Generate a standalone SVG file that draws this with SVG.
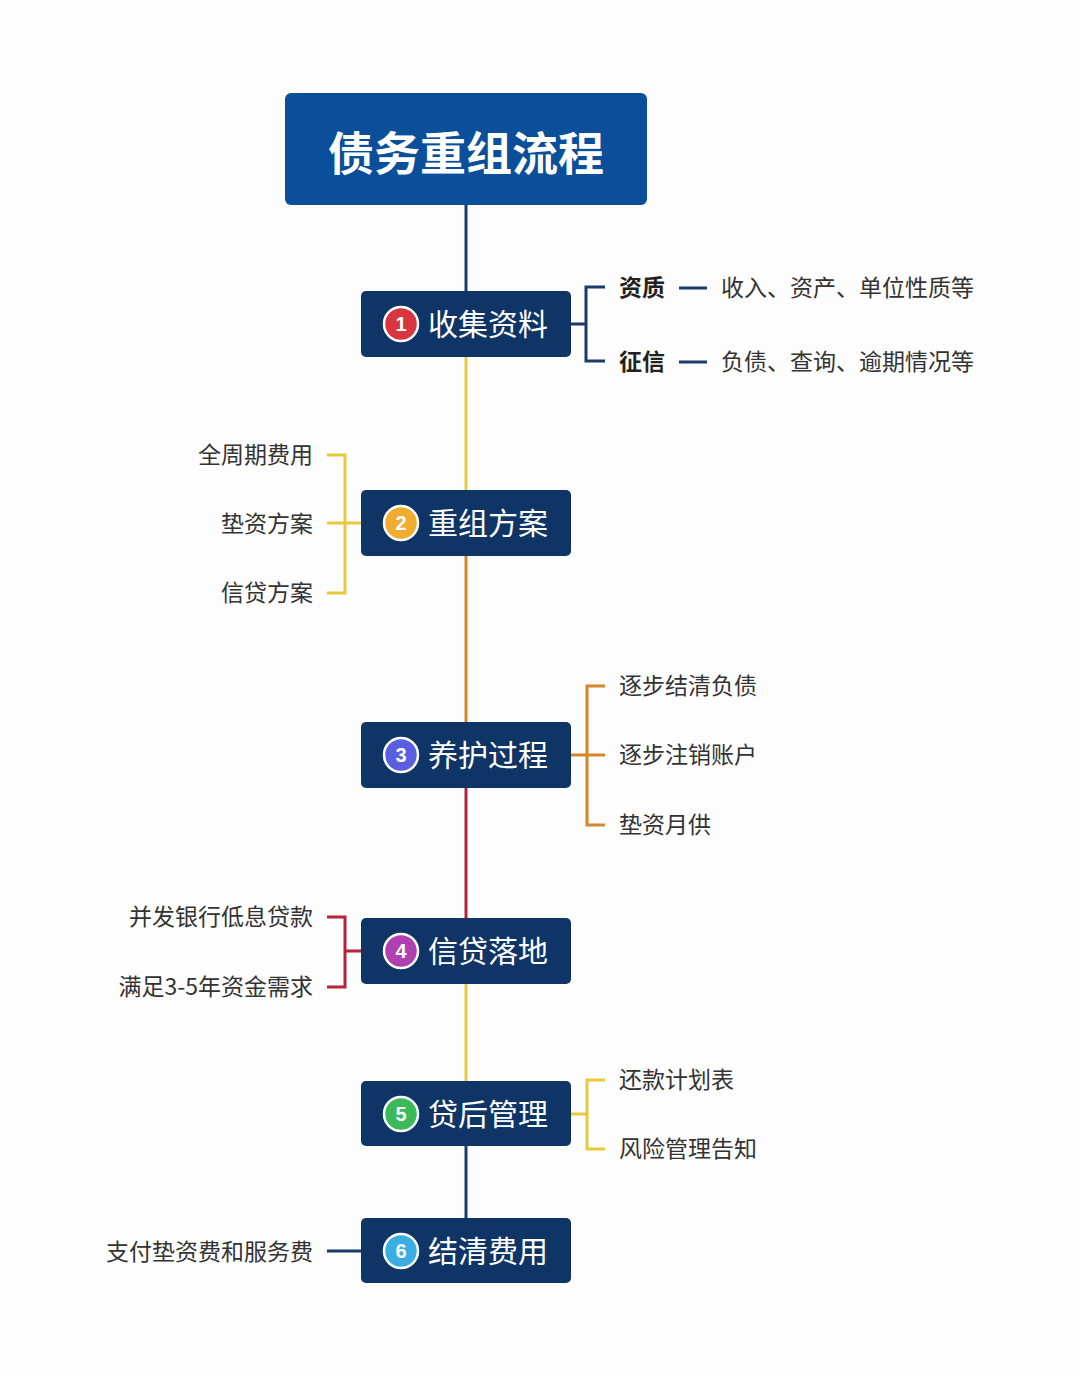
<svg xmlns="http://www.w3.org/2000/svg" width="1080" height="1376" viewBox="0 0 1080 1376">
<style>
.node{fill:#0e3566;}
.num{fill:#fff;font-family:"Liberation Sans",Arial,sans-serif;font-weight:bold;font-size:20px;text-anchor:middle;}
.ntxt{fill:#fff;font-family:"Noto Sans CJK SC","Noto Sans",sans-serif;font-size:30px;}
.leaf{fill:#333;font-family:"Noto Sans CJK SC","Noto Sans",sans-serif;font-size:23px;}
.leafb{fill:#222;font-family:"Noto Sans CJK SC","Noto Sans",sans-serif;font-size:23px;font-weight:bold;}
.r{text-anchor:end;}
.ln{fill:none;stroke-width:3;}
.navy{stroke:#1b3a6a;}
.yel{stroke:#e9c93c;}
.org{stroke:#d4862b;}
.red{stroke:#b4223c;}
</style>
<rect width="1080" height="1376" fill="#fdfdfd"/>
<g id="connectors">
<line class="ln navy" x1="466" y1="205" x2="466" y2="291"/>
<line class="ln yel" x1="466" y1="357" x2="466" y2="490"/>
<line class="ln org" x1="466" y1="556" x2="466" y2="722"/>
<line class="ln red" x1="466" y1="788" x2="466" y2="918"/>
<line class="ln yel" x1="466" y1="984" x2="466" y2="1081"/>
<line class="ln navy" x1="466" y1="1146" x2="466" y2="1218"/>
<path class="ln navy" d="M571 324H586M605 287H586V361H605"/>
<path class="ln navy" d="M679 288H707M679 362H707"/>
<path class="ln yel" d="M361 523H345M327 455H345V593H327M345 523H327"/>
<path class="ln org" d="M571 755H605M605 686H587V825H605"/>
<path class="ln red" d="M361 951H345M327 917H345V987H327"/>
<path class="ln yel" d="M571 1114H587M605 1080H587V1149H605"/>
<path class="ln navy" d="M327 1251H361"/>
</g>
<g id="title">
<rect x="285" y="93" width="362" height="112" rx="6" fill="#0b4e99"/>
<text x="466" y="170" fill="#fff" font-family="'Noto Sans CJK SC','Noto Sans',sans-serif" font-size="46" font-weight="bold" text-anchor="middle">债务重组流程</text>
</g>
<g id="node1">
<rect class="node" x="361" y="291" width="210" height="66" rx="5"/>
<circle cx="401" cy="324" r="17" fill="#d8363f" stroke="#fff" stroke-width="2.5"/>
<text class="num" x="401" y="331">1</text>
<text class="ntxt" x="428" y="335">收集资料</text>
</g>
<g id="node1-leaves">
<text class="leafb" x="619" y="296">资质</text>
<text class="leaf" x="721" y="296">收入、资产、单位性质等</text>
<text class="leafb" x="619" y="370">征信</text>
<text class="leaf" x="721" y="370">负债、查询、逾期情况等</text>
</g>
<g id="node2">
<rect class="node" x="361" y="490" width="210" height="66" rx="5"/>
<circle cx="401" cy="523" r="17" fill="#f0ac2f" stroke="#fff" stroke-width="2.5"/>
<text class="num" x="401" y="530">2</text>
<text class="ntxt" x="428" y="534">重组方案</text>
</g>
<g id="node2-leaves">
<text class="leaf r" x="313" y="463">全周期费用</text>
<text class="leaf r" x="313" y="532">垫资方案</text>
<text class="leaf r" x="313" y="601">信贷方案</text>
</g>
<g id="node3">
<rect class="node" x="361" y="722" width="210" height="66" rx="5"/>
<circle cx="401" cy="755" r="17" fill="#5a5ee0" stroke="#fff" stroke-width="2.5"/>
<text class="num" x="401" y="762">3</text>
<text class="ntxt" x="428" y="766">养护过程</text>
</g>
<g id="node3-leaves">
<text class="leaf" x="619" y="694">逐步结清负债</text>
<text class="leaf" x="619" y="763">逐步注销账户</text>
<text class="leaf" x="619" y="833">垫资月供</text>
</g>
<g id="node4">
<rect class="node" x="361" y="918" width="210" height="66" rx="5"/>
<circle cx="401" cy="951" r="17" fill="#b040b0" stroke="#fff" stroke-width="2.5"/>
<text class="num" x="401" y="958">4</text>
<text class="ntxt" x="428" y="962">信贷落地</text>
</g>
<g id="node4-leaves">
<text class="leaf r" x="313" y="925">并发银行低息贷款</text>
<text class="leaf r" x="313" y="995">满足3-5年资金需求</text>
</g>
<g id="node5">
<rect class="node" x="361" y="1081" width="210" height="65" rx="5"/>
<circle cx="401" cy="1114" r="17" fill="#3cba5a" stroke="#fff" stroke-width="2.5"/>
<text class="num" x="401" y="1121">5</text>
<text class="ntxt" x="428" y="1125">贷后管理</text>
</g>
<g id="node5-leaves">
<text class="leaf" x="619" y="1088">还款计划表</text>
<text class="leaf" x="619" y="1157">风险管理告知</text>
</g>
<g id="node6">
<rect class="node" x="361" y="1218" width="210" height="65" rx="5"/>
<circle cx="401" cy="1251" r="17" fill="#3aaee0" stroke="#fff" stroke-width="2.5"/>
<text class="num" x="401" y="1258">6</text>
<text class="ntxt" x="428" y="1262">结清费用</text>
</g>
<g id="node6-leaves">
<text class="leaf r" x="313" y="1260">支付垫资费和服务费</text>
</g>
</svg>
